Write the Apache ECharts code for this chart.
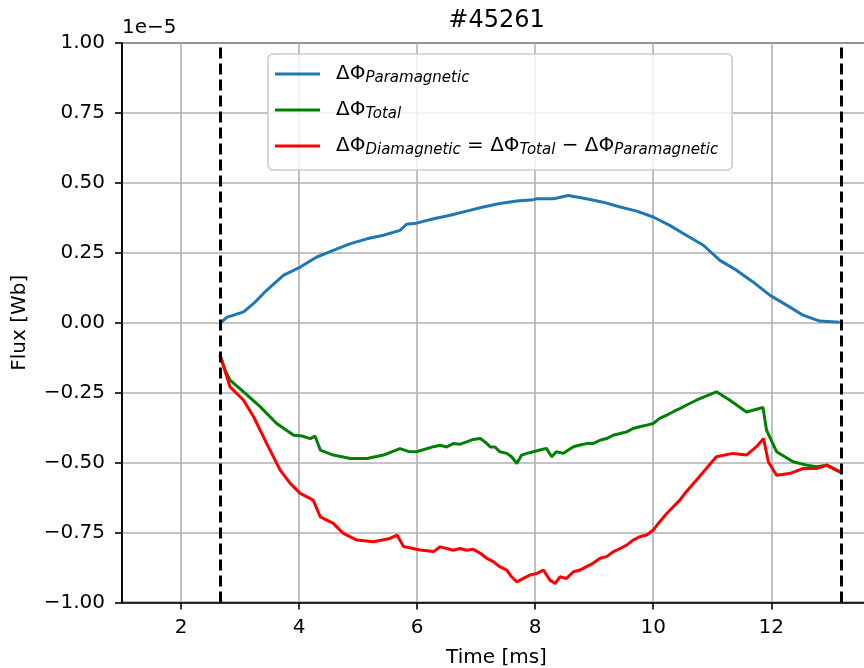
<!DOCTYPE html>
<html>
<head>
<meta charset="utf-8">
<script src="https://cdn.jsdelivr.net/npm/echarts@6/dist/echarts.min.js"></script>
<style>
  html, body { margin: 0; padding: 0; background: #fff; }
  #chart { width: 864px; height: 668px; }
</style>
</head>
<body>
<div id="chart"></div>
<script>
// Shot #45261 – magnetic flux signals, values in units of 1e-5 Wb
const FONT = '"DejaVu Sans", "Liberation Sans", sans-serif';

const shotTitle = '#45261';
const fluxScaleLabel = '1e\u22125';
const xTicks = [2, 4, 6, 8, 10, 12];
const window_ms = [2.67, 13.18];   // analysis window (dashed markers)

// ΔΦ paramagnetic
const paraTime = [2.67, 2.78, 2.89, 3.06, 3.23, 3.45, 3.74, 4.02, 4.30, 4.58, 4.87, 5.15, 5.43,
  5.71, 5.82, 5.99, 6.28, 6.56, 6.84, 7.12, 7.40, 7.69, 7.97, 8.03, 8.31, 8.56, 8.87, 9.15,
  9.44, 9.72, 10.00, 10.28, 10.56, 10.85, 11.13, 11.41, 11.69, 11.98, 12.26, 12.54, 12.82, 13.16];
const paraFlux = [0.000, 0.020, 0.027, 0.039, 0.069, 0.116, 0.170, 0.199, 0.235, 0.259, 0.283, 0.300, 0.313,
  0.330, 0.352, 0.356, 0.372, 0.384, 0.399, 0.414, 0.426, 0.435, 0.440, 0.443, 0.443, 0.455, 0.443, 0.431,
  0.414, 0.399, 0.378, 0.348, 0.313, 0.277, 0.223, 0.188, 0.146, 0.098, 0.063, 0.027, 0.006, 0.002];

// ΔΦ total
const totalTime = [2.66, 2.75, 2.83, 3.06, 3.34, 3.62, 3.91, 4.05, 4.19, 4.27, 4.36, 4.58, 4.87, 5.15,
  5.43, 5.71, 5.85, 5.99, 6.28, 6.39, 6.50, 6.61, 6.73, 6.84, 6.95, 7.07, 7.15, 7.24, 7.32, 7.40,
  7.52, 7.60, 7.69, 7.77, 7.86, 7.97, 8.08, 8.19, 8.28, 8.36, 8.48, 8.56, 8.65, 8.76, 8.87, 8.98,
  9.10, 9.21, 9.32, 9.44, 9.55, 9.66, 9.77, 9.89, 10.00, 10.11, 10.23, 10.34, 10.45, 10.56,
  10.73, 11.07, 11.30, 11.58, 11.86, 11.92, 12.09, 12.37, 12.60, 12.77, 12.94, 13.19];
const totalFlux = [-0.116, -0.170, -0.205, -0.247, -0.300, -0.360, -0.402, -0.405, -0.414, -0.405, -0.455, -0.473, -0.485, -0.485,
  -0.473, -0.450, -0.460, -0.461, -0.443, -0.438, -0.444, -0.432, -0.434, -0.426, -0.417, -0.414, -0.426, -0.444, -0.444, -0.461,
  -0.467, -0.479, -0.503, -0.473, -0.467, -0.461, -0.455, -0.449, -0.479, -0.461, -0.467, -0.455, -0.443, -0.437, -0.432, -0.432,
  -0.420, -0.414, -0.402, -0.396, -0.390, -0.378, -0.372, -0.366, -0.360, -0.342, -0.330, -0.318, -0.307, -0.295,
  -0.277, -0.247, -0.277, -0.319, -0.303, -0.384, -0.461, -0.497, -0.509, -0.515, -0.509, -0.536];

// ΔΦ diamagnetic
const diaTime = [2.66, 2.83, 3.06, 3.23, 3.45, 3.68, 3.85, 4.02, 4.24, 4.36, 4.58, 4.75, 4.98, 5.26,
  5.54, 5.66, 5.77, 6.05, 6.28, 6.39, 6.50, 6.61, 6.73, 6.84, 6.95, 7.07, 7.18, 7.29, 7.40,
  7.52, 7.60, 7.69, 7.80, 7.91, 8.03, 8.14, 8.25, 8.34, 8.42, 8.53, 8.65, 8.76, 8.87, 8.98,
  9.10, 9.21, 9.32, 9.44, 9.55, 9.66, 9.77, 9.89, 10.00, 10.11, 10.23, 10.34, 10.45, 10.56,
  10.73, 11.07, 11.35, 11.58, 11.75, 11.87, 11.95, 12.09, 12.31, 12.54, 12.77, 12.94, 13.19];
const diaFlux = [-0.116, -0.229, -0.277, -0.336, -0.431, -0.527, -0.574, -0.610, -0.634, -0.694, -0.717, -0.753, -0.777, -0.783,
  -0.771, -0.759, -0.800, -0.812, -0.818, -0.801, -0.807, -0.813, -0.807, -0.813, -0.810, -0.824, -0.842, -0.854, -0.872,
  -0.884, -0.908, -0.926, -0.914, -0.902, -0.896, -0.884, -0.920, -0.932, -0.908, -0.914, -0.890, -0.884, -0.872, -0.860,
  -0.842, -0.836, -0.819, -0.807, -0.795, -0.777, -0.765, -0.759, -0.741, -0.711, -0.682, -0.658, -0.634, -0.604,
  -0.563, -0.479, -0.467, -0.473, -0.443, -0.414, -0.497, -0.545, -0.539, -0.521, -0.521, -0.509, -0.536];

const zip = (ts, vs) => ts.map((t, i) => [t, vs[i]]);

const legendText = {
  para: '{m|ΔΦ}{s|Paramagnetic}',
  total: '{m|ΔΦ}{s|Total}',
  dia: '{m|ΔΦ}{s|Diamagnetic}{m| = ΔΦ}{s|Total}{m| \u2212 ΔΦ}{s|Paramagnetic}'
};

const chart = echarts.init(document.getElementById('chart'), null, { renderer: 'canvas' });

const lineSeries = (id, color, data, extra) => Object.assign({
  id: id,
  name: id,
  type: 'line',
  data: data,
  showSymbol: false,
  symbol: 'none',
  lineStyle: { color: color, width: 3 },
  itemStyle: { color: color },
  silent: true
}, extra || {});

chart.setOption({
  animation: false,
  backgroundColor: '#ffffff',
  textStyle: { fontFamily: FONT },
  grid: {
    left: 122, top: 43, right: -7, bottom: 65.5,
    containLabel: false,
    outerBoundsMode: 'none',
    show: true, borderColor: '#000', borderWidth: 1.6, backgroundColor: 'transparent'
  },
  xAxis: {
    type: 'value',
    min: 1.0, max: 13.69,
    name: 'Time [ms]',
    nameLocation: 'middle',
    nameGap: 45,
    nameMoveOverlap: false,
    nameTextStyle: { fontFamily: FONT, fontSize: 20, color: '#000' },
    axisLine: { show: true, onZero: false, lineStyle: { color: '#000', width: 1.6 } },
    axisTick: { show: true, length: 7, lineStyle: { color: '#000', width: 1.6 }, customValues: xTicks },
    axisLabel: { fontFamily: FONT, fontSize: 20, color: '#000', margin: 15, customValues: xTicks,
      formatter: v => String(v) },
    splitLine: { show: true, lineStyle: { color: '#b0b0b0', width: 1.6 } }
  },
  yAxis: {
    type: 'value',
    min: -1, max: 1, interval: 0.25,
    name: 'Flux [Wb]',
    nameLocation: 'middle',
    nameGap: 92,
    nameMoveOverlap: false,
    nameTextStyle: { fontFamily: FONT, fontSize: 20, color: '#000' },
    axisLine: { show: true, onZero: false, lineStyle: { color: '#000', width: 1.6 } },
    axisTick: { show: true, length: 7, lineStyle: { color: '#000', width: 1.6 } },
    axisLabel: { fontFamily: FONT, fontSize: 20, color: '#000', margin: 17,
      formatter: v => (v < 0 ? '\u2212' : '') + Math.abs(v).toFixed(2) },
    splitLine: { show: true, lineStyle: { color: '#b0b0b0', width: 1.6 } }
  },
  legend: {
    orient: 'vertical',
    left: 268, top: 54,
    padding: [10, 14, 12, 7],
    itemGap: 14,
    itemWidth: 45, itemHeight: 3,
    icon: 'rect',
    backgroundColor: 'rgba(255,255,255,0.8)',
    borderColor: '#cccccc', borderWidth: 1.6, borderRadius: 5,
    data: ['para', 'total', 'dia'],
    formatter: name => legendText[name],
    textStyle: {
      fontFamily: FONT, fontSize: 20, color: '#000',
      padding: [0, 0, 0, 11],
      rich: {
        m: { fontFamily: FONT, fontSize: 20, color: '#000', lineHeight: 24 },
        s: { fontFamily: FONT, fontSize: 15, fontStyle: 'italic', color: '#000', lineHeight: 14, verticalAlign: 'bottom' }
      }
    }
  },
  graphic: [
    { type: 'text', x: 496.5, y: 21, silent: true,
      style: { text: shotTitle, fontFamily: FONT, fontSize: 24, fill: '#000',
        align: 'center', verticalAlign: 'middle', textAlign: 'center', textVerticalAlign: 'middle' } },
    { type: 'text', x: 122, y: 28, silent: true,
      style: { text: fluxScaleLabel, fontFamily: FONT, fontSize: 20, fill: '#000',
        align: 'left', verticalAlign: 'middle', textAlign: 'left', textVerticalAlign: 'middle' } }
  ],
  series: [
    lineSeries('para', '#1f77b4', zip(paraTime, paraFlux)),
    lineSeries('total', '#008000', zip(totalTime, totalFlux)),
    lineSeries('dia', '#ff0000', zip(diaTime, diaFlux), {
      markLine: {
        silent: true,
        symbol: ['none', 'none'],
        label: { show: false },
        lineStyle: { color: '#000', width: 3, type: [11, 5] },
        emphasis: { disabled: true },
        data: window_ms.map(t => ({ xAxis: t }))
      }
    })
  ]
});
</script>
</body>
</html>
